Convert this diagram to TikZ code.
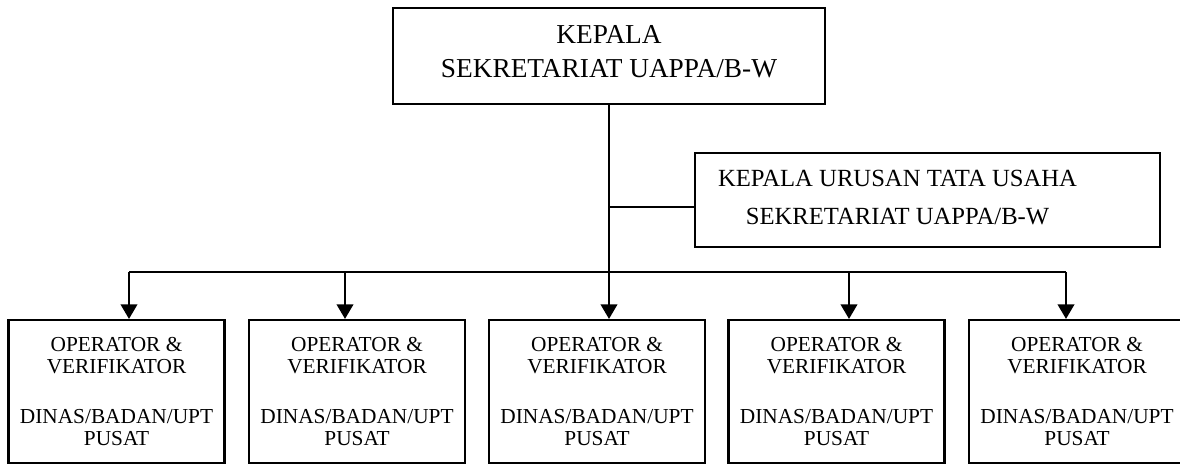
\documentclass[tikz,border=0pt]{standalone}
\usepackage{fontspec}
\setmainfont{Liberation Serif}
\usetikzlibrary{arrows.meta,positioning,calc}

\begin{document}
\begin{tikzpicture}[
  x=0.75pt, y=-0.75pt,
  >={Triangle[length=11pt,width=12.5pt]},
  headbox/.style={
    rectangle, draw=black, line width=1.6pt, inner sep=0pt,
    minimum width=324pt, minimum height=72pt
  },
  staffbox/.style={
    rectangle, draw=black, line width=1.6pt, inner sep=0pt,
    minimum width=348.75pt, minimum height=70.5pt
  },
  headtext/.style={align=center, inner sep=0pt, font=\fontsize{20.5}{25.5}\selectfont},
  stafftext/.style={align=center, inner sep=0pt, font=\fontsize{18.5}{28.5}\selectfont},
  unitbox/.style={
    rectangle, draw=black, line width=1.6pt, align=center, inner sep=0pt,
    minimum width=162pt, minimum height=107.25pt,
    font=\fontsize{16}{17}\selectfont
  },
  link/.style={line width=1.6pt, draw=black},
  flow/.style={->, line width=1.6pt, draw=black},
]
\useasboundingbox (0,0) rectangle (1180,464);

% head and staff
\node[headbox] (kepala) at (609,56) {};
\node[headtext] (kepalaText) at ($(kepala)+(0,-4.5)$) {KEPALA\\SEKRETARIAT UAPPA/B-W};
\node[staffbox] (urusan) at (927.5,200) {};
\node[stafftext] (urusanText) at ($(urusan)+(-30,-2)$) {KEPALA URUSAN TATA USAHA\\SEKRETARIAT UAPPA/B-W};

% operator units
\node[unitbox] (op1) at (116.5,391.5)
  {OPERATOR \&\\VERIFIKATOR\\[20pt]DINAS/BADAN/UPT\\PUSAT};
\node[unitbox] (op2) at (357,391.5)
  {OPERATOR \&\\VERIFIKATOR\\[20pt]DINAS/BADAN/UPT\\PUSAT};
\node[unitbox] (op3) at (597,391.5)
  {OPERATOR \&\\VERIFIKATOR\\[20pt]DINAS/BADAN/UPT\\PUSAT};
\node[unitbox] (op4) at (836.5,391.5)
  {OPERATOR \&\\VERIFIKATOR\\[20pt]DINAS/BADAN/UPT\\PUSAT};
\node[unitbox] (op5) at (1077,391.5)
  {OPERATOR \&\\VERIFIKATOR\\[20pt]DINAS/BADAN/UPT\\PUSAT};

% junctions on the bus
\coordinate (tap) at (609,207);
\coordinate (j1) at (129,272);
\coordinate (j2) at (345,272);
\coordinate (j4) at (849,272);
\coordinate (j5) at (1066,272);

\draw[flow] (kepala.south) -- (kepala.south |- op3.north);
\draw[link] (tap) -- (tap -| urusan.west);
\draw[link] (j1) -- (j5);
\draw[flow] (j1) -- (j1 |- op1.north);
\draw[flow] (j2) -- (j2 |- op2.north);
\draw[flow] (j4) -- (j4 |- op4.north);
\draw[flow] (j5) -- (j5 |- op5.north);

\end{tikzpicture}
\end{document}
